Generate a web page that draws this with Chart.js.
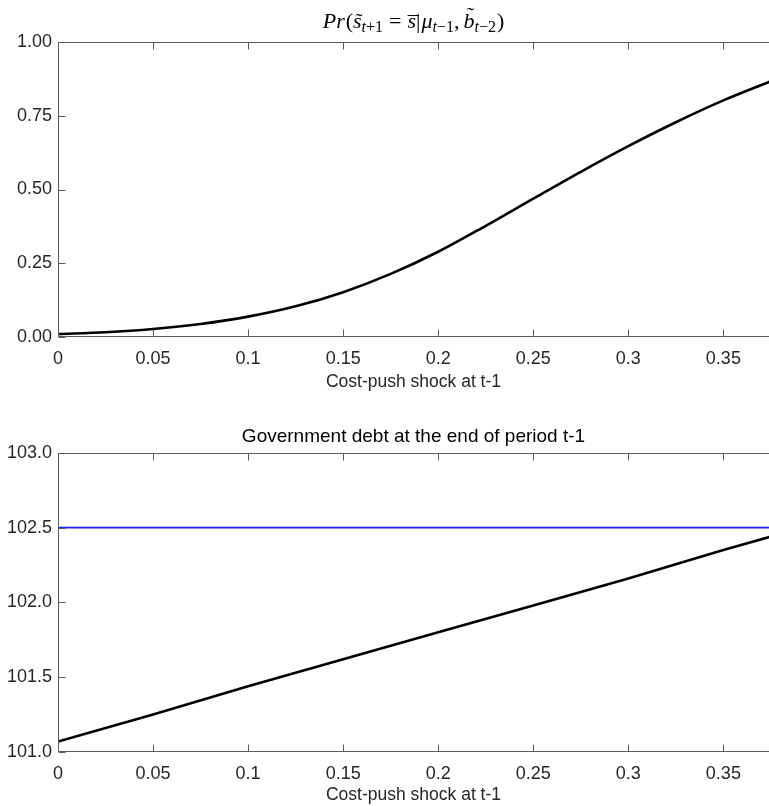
<!DOCTYPE html>
<html>
<head>
<meta charset="utf-8">
<script src="https://cdn.jsdelivr.net/npm/chart.js@4.4.1/dist/chart.umd.min.js"></script>
<style>
	body { margin: 0; background: #fff; }
	#wrap { position: relative; width: 769px; height: 806px; }
	#box1 { position: absolute; left: 0; top: 0; }
	#box2 { position: absolute; left: 0; top: 406px; }
</style>
</head>
<body>
<div id="wrap">
	<div id="box1"><canvas id="probChart" width="769" height="393"></canvas></div>
	<div id="box2"><canvas id="debtChart" width="769" height="400"></canvas></div>
</div>
<script>
// cost-push shock grid and switching probability
var shockGrid = [0, 0.025, 0.05, 0.075, 0.1, 0.125, 0.15, 0.175, 0.2, 0.225, 0.25, 0.275, 0.3, 0.325, 0.35, 0.375];
var probValues = [0.010, 0.016, 0.027, 0.044, 0.069, 0.104, 0.152, 0.214, 0.289, 0.377, 0.469, 0.560, 0.647, 0.728, 0.802, 0.867];

// government debt (bottom panel)
var debtGrid = [0, 0.05, 0.1, 0.15, 0.2, 0.25, 0.3, 0.35, 0.375];
var debtValues = [101.07, 101.25, 101.44, 101.62, 101.80, 101.98, 102.16, 102.35, 102.44];

// debt limit (blue line)
var limitGrid = [0, 0.375];
var limitValues = [102.5, 102.5];

var xLabel = 'Cost-push shock at t-1';
var debtTitle = 'Government debt at the end of period t-1';

var sansFont = '"Liberation Sans", Arial, Helvetica, sans-serif';
var serifFont = '"Liberation Serif", "Times New Roman", serif';

// title of the top panel, drawn piece by piece (subscripts, accents)
var titleRuns = [
	{ t: 'Pr', it: true, gap: 1 },
	{ t: '(' },
	{ t: 's', it: true, acc: '\u02DC', lift: 0 },
	{ t: 't', it: true, sub: true },
	{ t: '+1', sub: true, gap: 6 },
	{ t: '=', gap: 6 },
	{ t: 's', it: true, acc: '\u00AF', lift: -3 },
	{ t: '|', gap: 1 },
	{ t: '\u03BC', it: true },
	{ t: 't', it: true, sub: true },
	{ t: '\u22121', sub: true },
	{ t: ',', gap: 4 },
	{ t: 'b', it: true, acc: '\u02DC', lift: 6 },
	{ t: 't', it: true, sub: true },
	{ t: '\u22122', sub: true, gap: 1 },
	{ t: ')' }
];

function toPoints(xs, ys) {
	var pts = [];
	for (var i = 0; i < xs.length; i++) {
		pts.push({ x: xs[i], y: ys[i] });
	}
	return pts;
}

// MATLAB style box with ticks pointing inside
var matlabBox = {
	id: 'matlabBox',
	afterDatasetsDraw: function(chart) {
		var a = chart.chartArea, ctx = chart.ctx;
		var xs = chart.scales.x, ys = chart.scales.y;
		var L = Math.round(a.left) + 0.5, T = Math.round(a.top) + 0.5;
		var B = Math.round(a.bottom) - 0.5, R = Math.round(a.right) + 0.5;
		ctx.save();
		ctx.strokeStyle = '#5a5a5a';
		ctx.lineWidth = 1;
		ctx.beginPath();
		ctx.moveTo(R, T); ctx.lineTo(L, T); ctx.lineTo(L, B); ctx.lineTo(R, B);
		xs.ticks.forEach(function(t) {
			var px = Math.round(xs.getPixelForValue(t.value)) + 0.5;
			ctx.moveTo(px, B); ctx.lineTo(px, B - 7);
			ctx.moveTo(px, T); ctx.lineTo(px, T + 7);
		});
		ys.ticks.forEach(function(t) {
			var py = Math.round(ys.getPixelForValue(t.value)) + 0.5;
			ctx.moveTo(L, py); ctx.lineTo(L + 7, py);
		});
		ctx.stroke();
		ctx.restore();
	}
};

var mathTitle = {
	id: 'mathTitle',
	afterDraw: function(chart) {
		var ctx = chart.ctx, a = chart.chartArea;
		var base = 28, big = 22, small = 16;
		function fontFor(r) {
			return (r.it ? 'italic ' : '') + (r.sub ? small : big) + 'px ' + serifFont;
		}
		ctx.save();
		var total = 0;
		titleRuns.forEach(function(r) {
			ctx.font = fontFor(r);
			r.w = ctx.measureText(r.t).width;
			total += r.w + (r.gap || 0);
		});
		var x = (a.left + a.right) / 2 - total / 2;
		ctx.fillStyle = '#000';
		ctx.textBaseline = 'alphabetic';
		titleRuns.forEach(function(r) {
			ctx.font = fontFor(r);
			var y = base + (r.sub ? 4 : 0);
			ctx.fillText(r.t, x, y);
			if (r.acc) {
				ctx.font = big + 'px ' + serifFont;
				var aw = ctx.measureText(r.acc).width;
				ctx.fillText(r.acc, x + r.w / 2 - aw / 2 + 1.5, y - (r.lift || 0));
			}
			x += r.w + (r.gap || 0);
		});
		ctx.restore();
	}
};

function xAxis(height) {
	return {
		type: 'linear',
		min: 0,
		max: 0.374,
		afterFit: function(scale) { scale.height = height; },
		grid: { display: false, drawTicks: false },
		border: { display: false },
		ticks: {
			stepSize: 0.05,
			includeBounds: false,
			padding: 11,
			color: '#262626',
			font: { family: sansFont, size: 18 },
			callback: function(v) { return String(Math.round(v * 100) / 100); }
		},
		title: {
			display: true,
			text: xLabel,
			color: '#262626',
			padding: 0,
			font: { family: sansFont, size: 17.5 }
		}
	};
}

function yAxis(min, max, step, digits) {
	return {
		type: 'linear',
		min: min,
		max: max,
		afterFit: function(scale) { scale.width = 58; },
		grid: { display: false, drawTicks: false },
		border: { display: false },
		ticks: {
			stepSize: step,
			padding: 6,
			color: '#262626',
			font: { family: sansFont, size: 18 },
			callback: function(v) { return v.toFixed(digits); }
		}
	};
}

window.onload = function() {
	// 위 그래프: 확률
	var ctx1 = document.getElementById('probChart').getContext('2d');
	new Chart(ctx1, {
		type: 'line',
		data: {
			datasets: [{
				data: toPoints(shockGrid, probValues),
				borderColor: '#000000',
				borderWidth: 2.6,
				pointRadius: 0,
				cubicInterpolationMode: 'monotone',
				fill: false
			}]
		},
		options: {
			responsive: false,
			animation: false,
			layout: { padding: { top: 42, left: 0, right: 0, bottom: 0 } },
			plugins: { legend: { display: false }, tooltip: { enabled: false }, title: { display: false } },
			scales: {
				x: xAxis(56),
				y: yAxis(0, 1, 0.25, 2)
			}
		},
		plugins: [matlabBox, mathTitle]
	});

	// 아래 그래프: 정부 부채
	var ctx2 = document.getElementById('debtChart').getContext('2d');
	new Chart(ctx2, {
		type: 'line',
		data: {
			datasets: [{
				data: toPoints(limitGrid, limitValues),
				borderColor: '#1a1aff',
				borderWidth: 1.6,
				pointRadius: 0,
				fill: false
			}, {
				data: toPoints(debtGrid, debtValues),
				borderColor: '#000000',
				borderWidth: 2.6,
				pointRadius: 0,
				fill: false
			}]
		},
		options: {
			responsive: false,
			animation: false,
			layout: { padding: 0 },
			plugins: {
				legend: { display: false },
				tooltip: { enabled: false },
				title: {
					display: true,
					text: debtTitle,
					fullSize: false,
					color: '#000000',
					padding: { top: 19, bottom: 5 },
					font: { family: sansFont, size: 19, weight: 'normal' }
				}
			},
			scales: {
				x: xAxis(54),
				y: yAxis(101, 103, 0.5, 1)
			}
		},
		plugins: [matlabBox]
	});
};
</script>
</body>
</html>
